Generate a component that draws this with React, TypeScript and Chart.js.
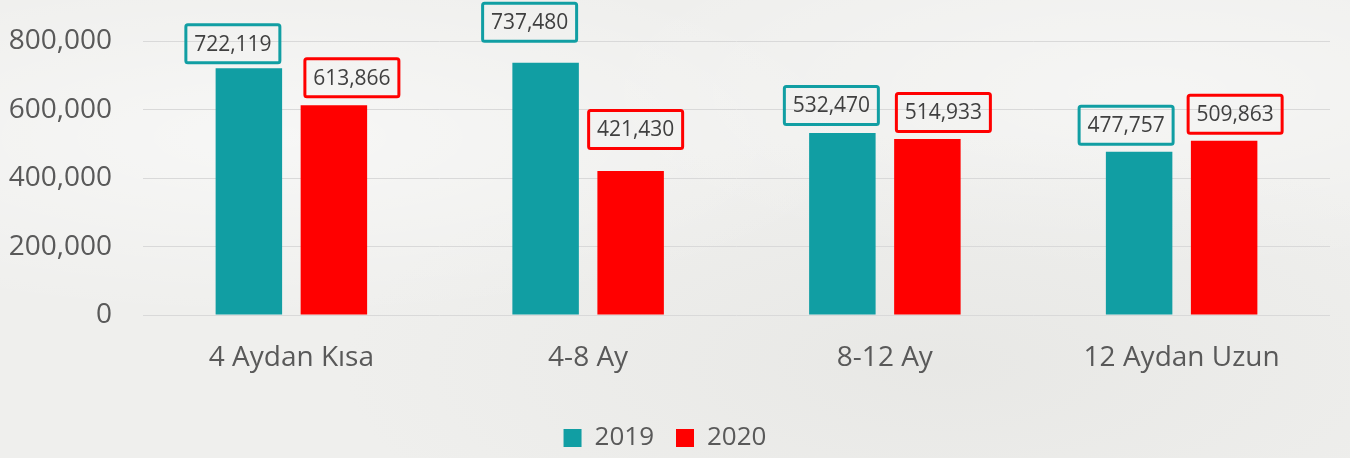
import React, { useEffect, useRef } from "react";
import { Chart, registerables } from "chart.js";

Chart.register(...registerables);

const categories = ["4 Aydan Kısa", "4-8 Ay", "8-12 Ay", "12 Aydan Uzun"];
const seriesNames = ["2019", "2020"];
const values2019 = [722119, 737480, 532470, 477757];
const values2020 = [613866, 421430, 514933, 509863];
const yTicks = [0, 200000, 400000, 600000, 800000];

const seriesColors = ["#119EA3", "#FF0000"];
// label box placement (layout only): horizontal shift of box centre vs bar centre, gap above bar top
const labelShiftX = [
  [-16, -16, -11, -13],
  [18, 5, 16, 11],
];
const labelGap = [
  [4, 20, 7, 6],
  [7, 21, 6, 6],
];

const FONT = "'Open Sans', 'Noto Sans', sans-serif";
const fmt = (v: number) => v.toLocaleString("en-US");

const labelBoxes = {
  id: "labelBoxes",
  afterDatasetsDraw(chart: any) {
    const ctx = chart.ctx as CanvasRenderingContext2D;
    ctx.save();
    ctx.font = `21px ${FONT}`;
    chart.data.datasets.forEach((ds: any, di: number) => {
      const meta = chart.getDatasetMeta(di);
      meta.data.forEach((bar: any, i: number) => {
        const text = fmt(ds.data[i]);
        const tw = ctx.measureText(text).width;
        const w = Math.round(tw + 20);
        const h = 41;
        const cx = bar.x + labelShiftX[di][i];
        const bottom = bar.y - labelGap[di][i];
        const left = cx - w / 2;
        const top = bottom - h;
        ctx.lineWidth = 3;
        ctx.strokeStyle = seriesColors[di];
        ctx.beginPath();
        (ctx as any).roundRect(left + 1.5, top + 1.5, w - 3, h - 3, 2);
        ctx.stroke();
        ctx.fillStyle = "#404040";
        ctx.textAlign = "center";
        ctx.textBaseline = "middle";
        ctx.fillText(text, cx, top + h / 2 + 1);
      });
    });
    ctx.restore();
  },
};

export default function App() {
  const ref = useRef<HTMLCanvasElement | null>(null);

  useEffect(() => {
    if (!ref.current) return;
    const chart = new Chart(ref.current, {
      type: "bar",
      data: {
        labels: categories,
        datasets: [
          {
            label: seriesNames[0],
            data: values2019,
            backgroundColor: seriesColors[0],
            barPercentage: 0.782,
            categoryPercentage: 0.573,
          },
          {
            label: seriesNames[1],
            data: values2020,
            backgroundColor: seriesColors[1],
            barPercentage: 0.782,
            categoryPercentage: 0.573,
          },
        ],
      },
      options: {
        responsive: false,
        animation: false,
        layout: { padding: { left: 0, right: 20, top: 41.5, bottom: -3 } },
        plugins: {
          legend: {
            position: "bottom",
            labels: {
              boxWidth: 18,
              boxHeight: 18,
              padding: 22,
              color: "#595959",
              font: { family: FONT, size: 26 },
            },
          },
          tooltip: { enabled: false },
        },
        scales: {
          x: {
            grid: { display: false, drawTicks: false },
            border: { display: false },
            ticks: {
              color: "#595959",
              font: { family: FONT, size: 28 },
              padding: 26,
            },
            afterFit: (s: any) => {
              s.height = 88;
            },
          },
          y: {
            min: 0,
            max: 800000,
            afterBuildTicks: (s: any) => {
              s.ticks = yTicks.map((v) => ({ value: v }));
            },
            grid: {
              color: "#D9D9D9",
              lineWidth: 1,
              drawTicks: true,
              tickLength: 31,
              tickColor: "rgba(0,0,0,0)",
            },
            border: { display: false },
            ticks: {
              color: "#595959",
              font: { family: FONT, size: 28 },
              padding: 0,
              callback: (v: any) => fmt(Number(v)),
            },
            afterFit: (s: any) => {
              s.width = 143;
            },
          },
        },
      },
      plugins: [labelBoxes],
    });
    return () => chart.destroy();
  }, []);

  return (
    <div
      style={{
        position: "fixed",
        left: 0,
        top: 0,
        width: 1350,
        height: 458,
        background:
          "radial-gradient(ellipse at 20% 30%, rgba(255,255,255,0.5), rgba(255,255,255,0) 40%)," +
          "radial-gradient(ellipse at 70% 80%, rgba(225,225,222,0.5), rgba(225,225,222,0) 45%)," +
          "radial-gradient(ellipse at 85% 20%, rgba(255,255,255,0.4), rgba(255,255,255,0) 35%)," +
          "#EFEFED",
      }}
    >
      <canvas ref={ref} width={1350} height={458} style={{ display: "block" }} />
    </div>
  );
}
